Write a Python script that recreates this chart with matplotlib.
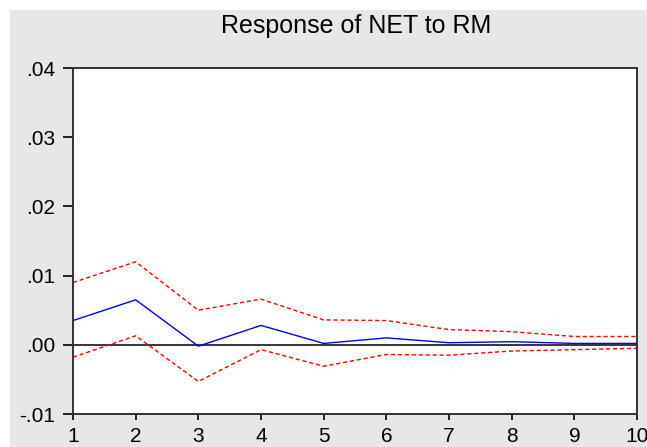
import numpy as np
import matplotlib.pyplot as plt
from matplotlib.patches import Rectangle

# Impulse response values
periods = [1, 2, 3, 4, 5, 6, 7, 8, 9, 10]
response = [0.0035, 0.0065, -0.0002, 0.0028, 0.0002, 0.0010, 0.0003, 0.00045, 0.0002, 0.0002]
upper = [0.0090, 0.0120, 0.0050, 0.0066, 0.0036, 0.0035, 0.0022, 0.0019, 0.0012, 0.0012]
lower = [-0.0018, 0.0013, -0.0053, -0.0007, -0.0031, -0.0014, -0.0015, -0.0009, -0.0007, -0.0005]
yticks = [-0.01, 0.00, 0.01, 0.02, 0.03, 0.04]
ytick_labels = ["-.01", ".00", ".01", ".02", ".03", ".04"]

plt.rcParams['font.family'] = ['Liberation Sans', 'DejaVu Sans']

fig = plt.figure(figsize=(6.47, 4.47), dpi=100)
fig.patch.set_facecolor("white")
# gray panel behind the plot
panel = Rectangle((10 / 647, 0), 1, 1 - 10 / 447, transform=fig.transFigure,
                  facecolor="#e7e7e7", edgecolor="none", zorder=-10)
fig.add_artist(panel)

ax = fig.add_axes([73 / 647, 33 / 447, 564 / 647, 346 / 447])
ax.set_zorder(1)
ax.set_facecolor("white")

ax.axhline(0, color="black", linewidth=1.1, zorder=1)
ax.plot(periods, upper, color="red", linestyle=(0, (3, 2)), linewidth=1)
ax.plot(periods, lower, color="red", linestyle=(0, (3, 2)), linewidth=1)
ax.plot(periods, response, color="blue", linewidth=1)

ax.set_xlim(1, 10)
ax.set_ylim(-0.01, 0.04)
ax.set_xticks(periods)
ax.set_yticks(yticks)
ax.set_yticklabels(ytick_labels)

for s in ax.spines.values():
    s.set_linewidth(1.4)
    s.set_color("#333333")
ax.tick_params(axis="y", direction="out", length=7, width=1.2, pad=6, labelsize=15)
ax.tick_params(axis="x", direction="out", length=4.5, width=1.2, pad=5, labelsize=15)

fig.text(356 / 647, 1 - 33 / 447, "Response of NET to RM", fontsize=18,
         ha="center", va="baseline")

plt.savefig("out.png", dpi=100)
